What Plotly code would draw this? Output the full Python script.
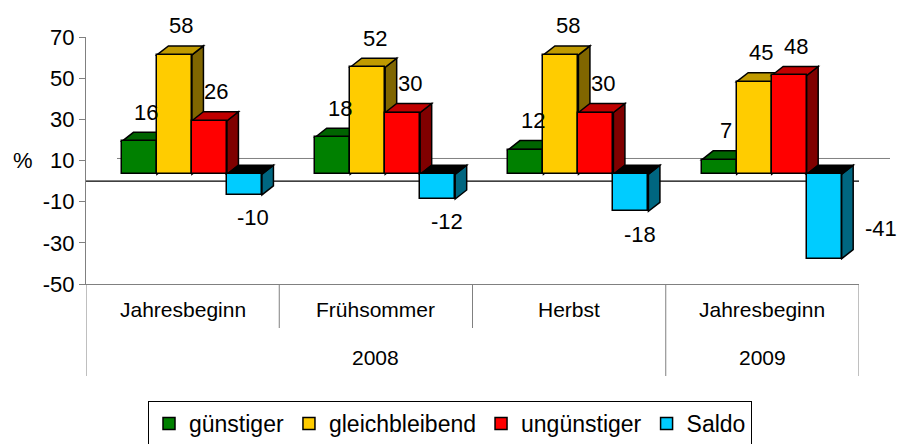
import plotly.graph_objects as go

# ---------------- data ----------------
periods = ["Jahresbeginn", "Frühsommer", "Herbst", "Jahresbeginn"]
years = ["2008", "2008", "2008", "2009"]
series_names = ["günstiger", "gleichbleibend", "ungünstiger", "Saldo"]
guenstiger = [16, 18, 12, 7]
gleichbleibend = [58, 52, 58, 45]
unguenstiger = [26, 30, 30, 48]
saldo = [-10, -12, -18, -41]
y_ticks = [-50, -30, -10, 10, 30, 50, 70]

series_values = [guenstiger, gleichbleibend, unguenstiger, saldo]

# ---------------- style ----------------
FONT = "Liberation Sans, Arial, sans-serif"
front_colors = ["#008000", "#FFCC00", "#FF0000", "#00CCFF"]
top_colors = ["#006400", "#C09A00", "#C00000", "#000000"]
side_colors = ["#004000", "#806600", "#800000", "#006680"]

W_PX, H_PX = 902, 444
M_L, M_R, M_T, M_B = 86, 43, 37, 160
plot_w = W_PX - M_L - M_R
plot_h = H_PX - M_T - M_B
Y_MIN, Y_MAX = -50, 70
n_cat = len(periods)
px_x = plot_w / n_cat
px_y = plot_h / (Y_MAX - Y_MIN)

BASE = 6.8 / px_y          # front-face floor sits above the back-wall zero
BAR_W = 35 / px_x
SHIFT = 9.3 / px_x
DX = 11.5 / px_x
DY = 9 / px_y


def ypaper(px):
    return (H_PX - M_B - px) / plot_h


fig = go.Figure()
shapes = []
annotations = []

# back wall floor line (grey) and front floor line (black)
shapes.append(dict(type="line", xref="paper", yref="y", x0=31 / plot_w, x1=1 + 31 / plot_w,
                   y0=BASE + 15.8 / px_y, y1=BASE + 15.8 / px_y,
                   line=dict(color="#808080", width=1), layer="below"))
shapes.append(dict(type="line", xref="paper", yref="y", x0=0, x1=1, y0=0, y1=0,
                   line=dict(color="#000000", width=1.2), layer="below"))

n_ser = len(series_values)
for s, (name, vals) in enumerate(zip(series_names, series_values)):
    xs = [i + SHIFT + (s - (n_ser - 1) / 2) * BAR_W for i in range(n_cat)]
    fig.add_trace(go.Bar(
        x=xs, y=vals, base=BASE, width=BAR_W, name=name,
        marker=dict(color=front_colors[s], line=dict(color="#000000", width=1.5)),
        hoverinfo="skip",
    ))

# 3D faces, painter's order
for i in range(n_cat):
    for s in range(n_ser):
        v = series_values[s][i]
        c = i + SHIFT + (s - (n_ser - 1) / 2) * BAR_W
        l, r = c - BAR_W / 2, c + BAR_W / 2
        if v >= 0:
            y0, y1 = BASE, BASE + v
            side = f"M{r},{y0} L{r},{y1} L{r+DX},{y1+DY} L{r+DX},{y0+DY} Z"
            top = f"M{l},{y1} L{l+DX},{y1+DY} L{r+DX},{y1+DY} L{r},{y1} Z"
        else:
            yb = BASE + v
            side = f"M{r},{yb} L{r},{BASE} L{r+DX},{BASE+DY} L{r+DX},{yb+DY} Z"
            top = f"M{l},{BASE} L{l+DX},{BASE+DY} L{r+DX},{BASE+DY} L{r},{BASE} Z"
        shapes.append(dict(type="path", xref="x", yref="y", path=side, layer="below",
                           fillcolor=side_colors[s], line=dict(color="#000000", width=1.5)))
        shapes.append(dict(type="path", xref="x", yref="y", path=top, layer="below",
                           fillcolor=top_colors[s], line=dict(color="#000000", width=1.5)))

        # data labels
        if v >= 0:
            annotations.append(dict(x=c, y=BASE + v, xref="x", yref="y", text=str(v),
                                    showarrow=False, xshift=7, yshift=29,
                                    font=dict(family=FONT, size=22, color="#000000")))
        else:
            bottom_px = (Y_MAX - (BASE + v)) * px_y
            if bottom_px + 40 > plot_h:
                annotations.append(dict(x=r + DX, y=BASE + v, xref="x", yref="y", text=str(v),
                                        showarrow=False, xanchor="left", xshift=10, yshift=30,
                                        font=dict(family=FONT, size=22, color="#000000")))
            else:
                annotations.append(dict(x=c, y=BASE + v, xref="x", yref="y", text=str(v),
                                        showarrow=False, xshift=9, yshift=-23,
                                        font=dict(family=FONT, size=22, color="#000000")))

# category axis (two levels)
for i, p in enumerate(periods):
    annotations.append(dict(x=i, y=ypaper(309), xref="x", yref="paper", text=p,
                            showarrow=False, yanchor="middle",
                            font=dict(family=FONT, size=21, color="#000000")))

groups = []
for i, yv in enumerate(years):
    if groups and groups[-1][0] == yv:
        groups[-1][2] = i
    else:
        groups.append([yv, i, i])
for yv, a, b in groups:
    annotations.append(dict(x=(a + b) / 2, y=ypaper(357), xref="x", yref="paper", text=yv,
                            showarrow=False, yanchor="middle",
                            font=dict(family=FONT, size=21, color="#000000")))

for i in range(n_cat + 1):
    xb = i - 0.5
    long_line = i == 0 or i == n_cat or years[i] != years[i - 1]
    shapes.append(dict(type="line", xref="x", yref="paper", x0=xb, x1=xb,
                       y0=0, y1=ypaper(376 if long_line else 328),
                       line=dict(color="#808080", width=1)))

# "%" label
annotations.append(dict(x=(11 - M_L) / plot_w, y=10, xref="paper", yref="y", text="%",
                        xanchor="left", showarrow=False,
                        font=dict(family=FONT, size=22, color="#000000")))

fig.update_layout(
    width=W_PX, height=H_PX,
    margin=dict(l=M_L, r=M_R, t=M_T, b=M_B, pad=0, autoexpand=False),
    paper_bgcolor="#FFFFFF", plot_bgcolor="#FFFFFF",
    barmode="overlay", bargap=0,
    showlegend=True,
    legend=dict(orientation="h", x=(450 - M_L) / plot_w, xanchor="center",
                y=ypaper(401), yanchor="top",
                bordercolor="#000000", borderwidth=1, bgcolor="#FFFFFF",
                font=dict(family=FONT, size=23, color="#000000"),
                traceorder="normal"),
    xaxis=dict(range=[-0.5, n_cat - 0.5], showticklabels=False, ticks="",
               showgrid=False, zeroline=False, showline=True,
               linecolor="#808080", linewidth=1, fixedrange=True),
    yaxis=dict(range=[Y_MIN, Y_MAX], tickvals=y_ticks, ticktext=[str(t) for t in y_ticks],
               ticks="outside", ticklen=6, tickcolor="#808080", tickwidth=1,
               showgrid=False, zeroline=False, showline=True,
               linecolor="#808080", linewidth=1,
               tickfont=dict(family=FONT, size=22, color="#000000"), fixedrange=True),
    shapes=shapes,
    annotations=annotations,
    font=dict(family=FONT),
)

fig.write_html("out.html", config={"displayModeBar": False},
               post_script="document.body.style.margin='0';document.body.style.overflow='hidden';")
